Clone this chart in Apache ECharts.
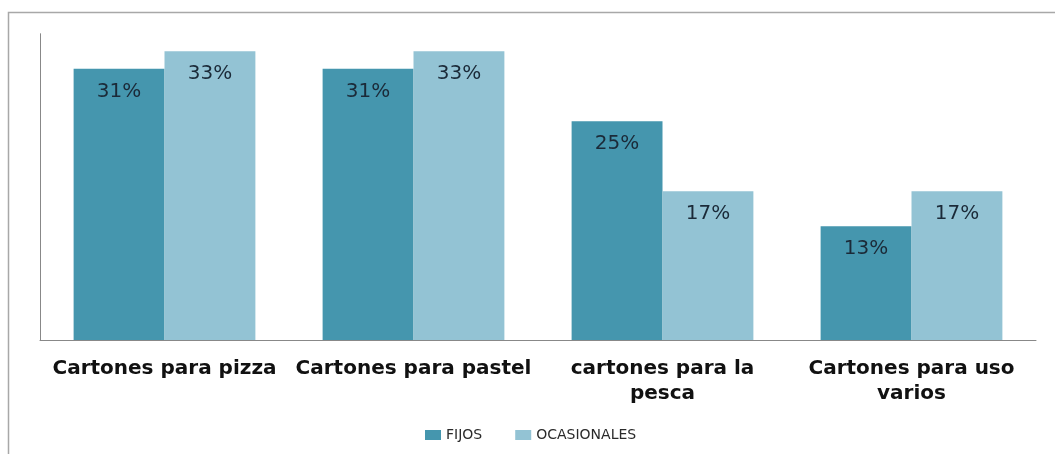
<!DOCTYPE html>
<html><head><meta charset="utf-8">
<script src="https://cdn.jsdelivr.net/npm/echarts@6/dist/echarts.min.js"></script>
<style>html,body{margin:0;padding:0;background:#fff}#c{width:1055px;height:454px}</style>
</head><body><div id="c"></div>
<script>
const categories = ['Cartones para pizza', 'Cartones para pastel', 'cartones para la\npesca', 'Cartones para uso\nvarios'];
const fijos = [31, 31, 25, 13];
const ocasionales = [33, 33, 17, 17];
const seriesNames = ['FIJOS', 'OCASIONALES'];

const chart = echarts.init(document.getElementById('c'));
const labelStyle = {
  show: true, position: 'insideTop', distance: 13,
  formatter: p => p.value + '%',
  fontFamily: 'DejaVu Sans', fontSize: 20, color: '#1b2a38'
};
chart.setOption({
  animation: false,
  graphic: [{
    type: 'rect', shape: {x: 8.5, y: 12.5, width: 1060, height: 460},
    style: {fill: 'none', stroke: '#a8a8a8', lineWidth: 1.5}, silent: true
  }],
  grid: {left: 40, right: 19, top: 33.75, bottom: 114},
  legend: {
    top: 423, left: 420, itemWidth: 16, itemHeight: 10, itemGap: 33,
    icon: 'rect',
    textStyle: {fontFamily: 'DejaVu Sans', fontSize: 14, color: '#2a2a2a'}
  },
  xAxis: {
    type: 'category', data: categories,
    axisLine: {lineStyle: {color: '#888', width: 1}},
    axisTick: {show: false},
    axisLabel: {fontFamily: 'DejaVu Sans', fontWeight: 'bold', fontSize: 20, color: '#111', lineHeight: 25, margin: 16, interval: 0}
  },
  yAxis: {
    type: 'value', min: 0, max: 35,
    axisLine: {show: true, lineStyle: {color: '#888', width: 1}},
    axisTick: {show: false}, axisLabel: {show: false}, splitLine: {show: false}
  },
  series: [
    {name: seriesNames[0], type: 'bar', data: fijos, barGap: '0%', barCategoryGap: '27%',
     itemStyle: {color: '#4596ae'}, label: labelStyle},
    {name: seriesNames[1], type: 'bar', data: ocasionales,
     itemStyle: {color: '#93c3d4'}, label: labelStyle}
  ]
});
</script></body></html>
